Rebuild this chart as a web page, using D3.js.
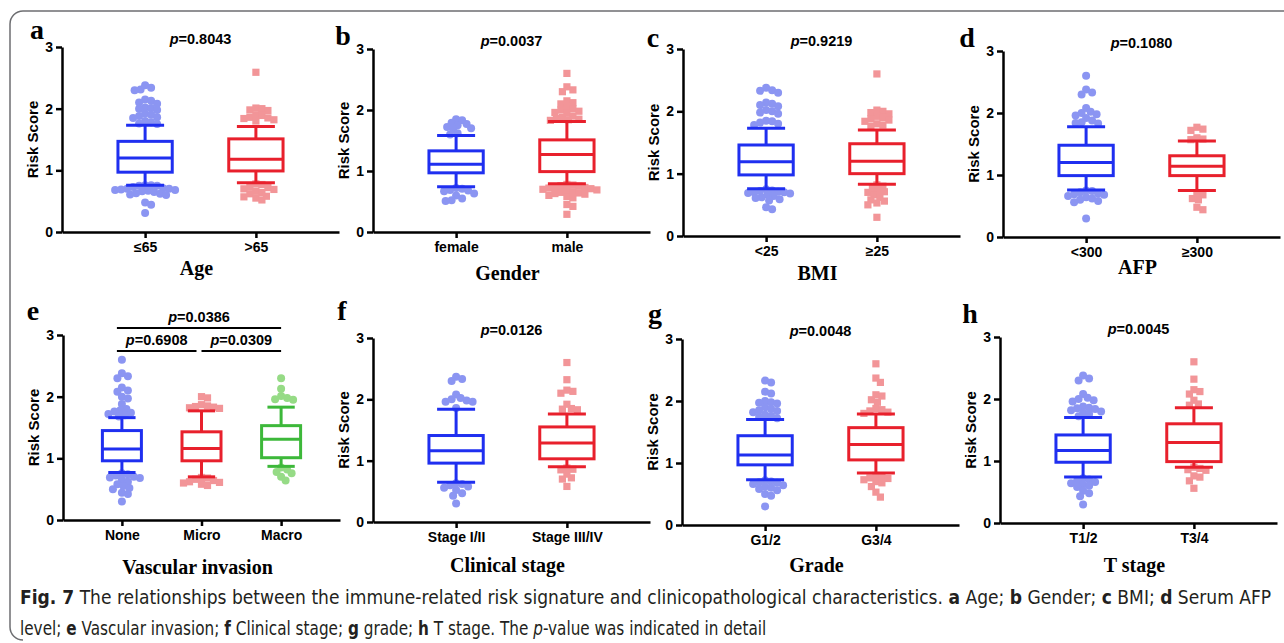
<!DOCTYPE html>
<html>
<head>
<meta charset="utf-8">
<script src="https://cdn.jsdelivr.net/npm/d3@7"></script>
<style>
  html, body { margin: 0; padding: 0; background: #fff; }
  svg { display: block; }
  .axis path, .axis line { stroke: #000; stroke-width: 2.5; }
  .ylab { font-family: "Liberation Sans", Arial, sans-serif; font-weight: bold; font-size: 15px; }
  .pval { font-family: "Liberation Sans", Arial, sans-serif; font-weight: bold; font-size: 14.5px; }
  .title { font-family: "Liberation Serif", "Times New Roman", serif; font-weight: bold; font-size: 20px; }
  .letter { font-family: "Liberation Serif", "Times New Roman", serif; font-weight: bold; font-size: 28px; }
  .caption { font-family: "DejaVu Sans", sans-serif; font-size: 19px; fill: #231f20; }
</style>
</head>
<body>
<svg id="fig" width="1284" height="643"></svg>
<script>
// ---- data: box stats are [lower whisker, q1, median, q3, upper whisker]
const ageGroups = ['≤65', '>65'];
const ageStats = [[0.76, 0.97, 1.20, 1.47, 1.73], [0.80, 0.99, 1.18, 1.51, 1.71]];
const ageOutliers = [
  [2.38, 2.34, 2.31, 2.30, 2.15, 2.13, 2.10, 2.08, 2.02, 2.01, 2.00, 1.98, 1.92, 1.90, 1.88, 1.86, 1.85, 1.80, 1.78, 1.76, 1.75,
   0.76, 0.76, 0.75, 0.75, 0.73, 0.71, 0.70, 0.70, 0.69, 0.68, 0.68, 0.67, 0.66, 0.65, 0.63, 0.62, 0.61, 0.60, 0.48, 0.44, 0.31],
  [2.59, 2.01, 2.00, 1.98, 1.97, 1.90, 1.89, 1.86, 1.85, 1.84, 1.82, 1.80,
   0.78, 0.77, 0.73, 0.72, 0.70, 0.69, 0.66, 0.64, 0.62, 0.58, 0.57, 0.55, 0.52]
];

const genderGroups = ['female', 'male'];
const genderStats = [[0.74, 0.97, 1.11, 1.33, 1.58], [0.79, 0.99, 1.27, 1.51, 1.81]];
const genderOutliers = [
  [1.85, 1.83, 1.79, 1.77, 1.75, 1.72, 1.70, 1.69, 1.62, 1.60,
   0.72, 0.71, 0.69, 0.68, 0.67, 0.63, 0.60, 0.55, 0.52, 0.51],
  [2.60, 2.38, 2.33, 2.30, 2.15, 2.12, 2.10, 2.05, 2.02, 2.00, 1.98, 1.96, 1.95, 1.90, 1.88, 1.86, 1.85, 1.84, 1.83,
   0.78, 0.77, 0.76, 0.75, 0.74, 0.73, 0.72, 0.71, 0.70, 0.69, 0.68, 0.66, 0.65, 0.64, 0.63, 0.62, 0.60, 0.58, 0.56, 0.45, 0.42, 0.29]
];

const bmiGroups = ['<25', '≥25'];
const bmiStats = [[0.76, 0.98, 1.19, 1.46, 1.73], [0.83, 1.00, 1.20, 1.48, 1.70]];
const bmiOutliers = [
  [2.38, 2.34, 2.33, 2.30, 2.14, 2.12, 2.10, 2.08, 2.02, 2.00, 1.98, 1.96, 1.85, 1.84, 1.82, 1.80, 1.78,
   0.75, 0.73, 0.72, 0.71, 0.70, 0.70, 0.69, 0.68, 0.66, 0.64, 0.62, 0.61, 0.59, 0.57, 0.46, 0.43],
  [2.60, 2.02, 2.00, 1.98, 1.96, 1.92, 1.90, 1.88, 1.86, 1.84, 1.80, 1.78, 1.76,
   0.82, 0.80, 0.76, 0.73, 0.71, 0.70, 0.66, 0.62, 0.58, 0.56, 0.53, 0.50, 0.30]
];

const afpGroups = ['<300', '≥300'];
const afpStats = [[0.76, 0.99, 1.20, 1.48, 1.78], [0.75, 0.99, 1.14, 1.31, 1.55]];
const afpOutliers = [
  [2.60, 2.38, 2.33, 2.30, 2.08, 2.02, 2.00, 1.98, 1.96, 1.92, 1.88, 1.85, 1.84, 1.83,
   0.75, 0.74, 0.72, 0.70, 0.69, 0.68, 0.66, 0.64, 0.62, 0.60, 0.58, 0.56, 0.30],
  [1.77, 1.74, 1.72, 1.60, 1.58, 1.57,
   0.70, 0.68, 0.62, 0.60, 0.48, 0.44]
];

const vascGroups = ['None', 'Micro', 'Macro'];
const vascStats = [[0.77, 0.96, 1.15, 1.45, 1.66], [0.70, 0.96, 1.16, 1.43, 1.77], [0.87, 1.01, 1.31, 1.53, 1.83]];
const vascOutliers = [
  [2.60, 2.38, 2.33, 2.30, 2.15, 2.10, 2.08, 2.00, 1.97, 1.88, 1.80, 1.78, 1.76, 1.74, 1.72, 1.70, 1.68,
   0.76, 0.74, 0.72, 0.70, 0.69, 0.68, 0.66, 0.62, 0.58, 0.55, 0.52, 0.50, 0.44, 0.42, 0.30],
  [2.00, 1.98, 1.87, 1.85, 1.84, 1.83, 1.82, 1.81,
   0.69, 0.68, 0.66, 0.64, 0.62, 0.61, 0.60, 0.58, 0.56],
  [2.30, 2.13, 2.01, 1.98, 1.96, 1.95,
   0.85, 0.82, 0.78, 0.76, 0.70, 0.64]
];

const stageGroups = ['Stage I/II', 'Stage III/IV'];
const stageStats = [[0.65, 0.96, 1.16, 1.41, 1.84], [0.90, 1.03, 1.29, 1.55, 1.76]];
const stageOutliers = [
  [2.37, 2.33, 2.30, 2.08, 2.02, 2.00, 1.98, 1.96, 1.96, 1.86,
   0.63, 0.62, 0.60, 0.58, 0.56, 0.52, 0.47, 0.43, 0.30],
  [2.60, 2.32, 2.15, 2.13, 2.10, 1.92, 1.85, 1.84, 1.83,
   0.88, 0.86, 0.85, 0.78, 0.72, 0.70, 0.58]
];

const gradeGroups = ['G1/2', 'G3/4'];
const gradeStats = [[0.73, 0.97, 1.13, 1.44, 1.70], [0.84, 1.05, 1.30, 1.57, 1.79]];
const gradeOutliers = [
  [2.33, 2.30, 2.15, 2.12, 2.00, 1.98, 1.97, 1.96, 1.90, 1.87, 1.85, 1.84, 1.82, 1.78, 1.76, 1.74, 1.72,
   0.72, 0.70, 0.69, 0.68, 0.66, 0.64, 0.62, 0.60, 0.58, 0.56, 0.50, 0.47, 0.30],
  [2.60, 2.37, 2.30, 2.10, 2.08, 2.02, 1.98, 1.88, 1.86, 1.84, 1.82, 1.80,
   0.80, 0.78, 0.76, 0.75, 0.73, 0.70, 0.68, 0.62, 0.53, 0.45]
];

const tGroups = ['T1/2', 'T3/4'];
const tStats = [[0.74, 0.98, 1.17, 1.42, 1.70], [0.90, 0.99, 1.30, 1.60, 1.86]];
const tOutliers = [
  [2.38, 2.33, 2.30, 2.08, 2.02, 2.00, 1.98, 1.96, 1.88, 1.86, 1.85, 1.84, 1.82, 1.80, 1.78, 1.76, 1.72,
   0.72, 0.70, 0.68, 0.66, 0.64, 0.62, 0.60, 0.58, 0.52, 0.48, 0.43, 0.30],
  [2.60, 2.32, 2.15, 2.12, 2.08, 1.98, 1.92, 1.90,
   0.90, 0.88, 0.86, 0.85, 0.76, 0.74, 0.68, 0.56]
];

const panelLetters = ['a', 'b', 'c', 'd', 'e', 'f', 'g', 'h'];
const panelTitles = ['Age', 'Gender', 'BMI', 'AFP', 'Vascular invasion', 'Clinical stage', 'Grade', 'T stage'];
const pValues = ['0.8043', '0.0037', '0.9219', '0.1080', null, '0.0126', '0.0048', '0.0045'];
const vascPairs = [[0, 2, '0.0386'], [0, 1, '0.6908'], [1, 2, '0.0309']];
const yTicks = [0, 1, 2, 3];

const groupsList = [ageGroups, genderGroups, bmiGroups, afpGroups, vascGroups, stageGroups, gradeGroups, tGroups];
const statsList = [ageStats, genderStats, bmiStats, afpStats, vascStats, stageStats, gradeStats, tStats];
const outlierList = [ageOutliers, genderOutliers, bmiOutliers, afpOutliers, vascOutliers, stageOutliers, gradeOutliers, tOutliers];

// ---- layout
const AXIS_X = [62, 373, 683, 1003, 63, 373, 682, 1000];
const Y_TOP = [47, 49, 49, 51, 335, 338, 339, 337];
const Y_BOT = [232, 232, 236, 237, 520, 522, 525, 523];
const TITLE_OFF = [43, 48, 44, 37, 54, 50, 47, 49];
const LETTER_X = [-25, -30, -30, -36, -30, -31, -27, -30];
const LETTER_Y = [39, 45, 47, 47, 320, 320, 323, 323];
const W = 277;
const LINE = ['#1f2ff0', '#e8202c', '#3db83a'];
const DOT = ['#8b95f2', '#f29598', '#96db86'];
const SANS = '"Liberation Sans", Arial, sans-serif';

const svg = d3.select('#fig');

// frame
svg.append('path')
  .attr('d', 'M1284,11 H23 A13,13 0 0 0 10,24 V627 A13,13 0 0 0 23,640')
  .attr('fill', 'none').attr('stroke', '#6d6e71').attr('stroke-width', 1.5);

// simple beeswarm: each point takes the nearest free horizontal slot
function swarm(vals, y, D) {
  const placed = [];
  vals.map(v => ({ v, py: y(v) })).sort((a, b) => a.py - b.py).forEach(p => {
    const near = placed.filter(q => Math.abs(q.py - p.py) < D);
    for (let k = 0; k < 200; k++) {
      const off = (k % 2 ? 1 : -1) * Math.ceil(k / 2) * 1.5;
      if (near.every(q => (q.dx - off) ** 2 + (q.py - p.py) ** 2 >= D * D)) { p.dx = off; break; }
    }
    placed.push(p);
  });
  return placed;
}

function styleTicks(sel) {
  sel.attr('font-family', SANS).attr('font-size', 14);
  sel.selectAll('text').attr('font-weight', 'bold').attr('fill', '#000');
}

groupsList.forEach((groups, i) => {
  const g = svg.append('g').attr('transform', `translate(${AXIS_X[i]},0)`);
  const y = d3.scaleLinear().domain([0, 3]).range([Y_BOT[i], Y_TOP[i]]);
  const x = d3.scalePoint().domain(groups).range([0, W]).padding(groups.length === 3 ? 0.74 : 0.75);
  const step = x.step();
  const bw = step * 0.49, cw = bw * 0.7;

  // points
  groups.forEach((grp, j) => {
    const cx = x(grp);
    const pts = swarm(outlierList[i][j], y, 5.8);
    if (j === 1) {
      g.selectAll(null).data(pts).enter().append('rect')
        .attr('x', d => cx + d.dx - 3.6).attr('y', d => d.py - 3.6)
        .attr('width', 7.2).attr('height', 7.2).attr('fill', DOT[j]);
    } else {
      g.selectAll(null).data(pts).enter().append('circle')
        .attr('cx', d => cx + d.dx).attr('cy', d => d.py).attr('r', 4).attr('fill', DOT[j]);
    }

    // box + whiskers
    const [lo, q1, md, q3, hi] = statsList[i][j];
    const c = LINE[j];
    const bg = g.append('g').attr('stroke', c).attr('stroke-width', 3).attr('fill', 'none');
    bg.append('line').attr('x1', cx).attr('x2', cx).attr('y1', y(q3)).attr('y2', y(hi));
    bg.append('line').attr('x1', cx).attr('x2', cx).attr('y1', y(q1)).attr('y2', y(lo));
    bg.append('line').attr('x1', cx - cw / 2).attr('x2', cx + cw / 2).attr('y1', y(hi)).attr('y2', y(hi));
    bg.append('line').attr('x1', cx - cw / 2).attr('x2', cx + cw / 2).attr('y1', y(lo)).attr('y2', y(lo));
    bg.append('rect').attr('x', cx - bw / 2).attr('width', bw).attr('y', y(q3)).attr('height', y(q1) - y(q3));
    bg.append('line').attr('x1', cx - bw / 2).attr('x2', cx + bw / 2).attr('y1', y(md)).attr('y2', y(md));
  });

  // axes
  g.append('g').attr('class', 'axis').attr('transform', `translate(0,${Y_BOT[i]})`)
    .call(d3.axisBottom(x).tickSize(6).tickSizeOuter(0).tickPadding(4))
    .call(styleTicks);
  g.append('g').attr('class', 'axis')
    .call(d3.axisLeft(y).tickValues(yTicks).tickFormat(d3.format('d')).tickSize(6).tickSizeOuter(0).tickPadding(3))
    .call(styleTicks);

  g.append('text').attr('class', 'ylab').attr('text-anchor', 'middle')
    .attr('transform', `translate(-24,${(Y_TOP[i] + Y_BOT[i]) / 2}) rotate(-90)`).text('Risk Score');

  g.append('text').attr('class', 'title').attr('text-anchor', 'middle')
    .attr('x', W / 2 - 4).attr('y', Y_BOT[i] + TITLE_OFF[i]).text(panelTitles[i]);

  g.append('text').attr('class', 'letter').attr('text-anchor', 'middle')
    .attr('x', LETTER_X[i]).attr('y', LETTER_Y[i]).text(panelLetters[i]);

  const pText = (sel, val) => {
    sel.append('tspan').attr('font-style', 'italic').text('p');
    sel.append('tspan').text('=' + val);
  };

  if (pValues[i]) {
    const t = g.append('text').attr('class', 'pval').attr('text-anchor', 'middle')
      .attr('x', (x(groups[0]) + x(groups[groups.length - 1])) / 2).attr('y', Y_TOP[i] - 3);
    pText(t, pValues[i]);
  } else {
    vascPairs.forEach(([a, b, val], k) => {
      const ly = k === 0 ? Y_TOP[i] - 7 : Y_TOP[i] + 16;
      const x1 = x(groups[a]) + (k === 2 ? 0 : -5);
      const x2 = x(groups[b]) + (k === 1 ? -5 : 0);
      g.append('line').attr('x1', x1).attr('x2', x2).attr('y1', ly).attr('y2', ly)
        .attr('stroke', '#000').attr('stroke-width', 1.8);
      const t = g.append('text').attr('class', 'pval').attr('text-anchor', 'middle')
        .attr('x', (x1 + x2) / 2).attr('y', ly - 6);
      pText(t, val);
    });
  }
});

// caption: condensed look by squeezing each line horizontally to its width in the figure
const captionLines = [
  { y: 604, width: 1252, parts: [['Fig. 7', 'b'], ['  The relationships between the immune-related risk signature and clinicopathological characteristics. '],
    ['a', 'b'], [' Age; '], ['b', 'b'], [' Gender; '], ['c', 'b'], [' BMI; '], ['d', 'b'], [' Serum AFP']] },
  { y: 635, width: 747, parts: [['level; '], ['e', 'b'], [' Vascular invasion; '], ['f', 'b'], [' Clinical stage; '], ['g', 'b'],
    [' grade; '], ['h', 'b'], [' T stage. The '], ['p', 'i'], ['-value was indicated in detail']] }
];
captionLines.forEach(line => {
  const t = svg.append('text').attr('class', 'caption').attr('x', 0).attr('y', 0);
  line.parts.forEach(([s, f]) => t.append('tspan')
    .attr('font-weight', f === 'b' ? 'bold' : null).attr('font-style', f === 'i' ? 'italic' : null).text(s));
  const sx = line.width / t.node().getComputedTextLength();
  t.attr('transform', `translate(20,${line.y}) scale(${sx},1)`);
});
</script>
</body>
</html>
